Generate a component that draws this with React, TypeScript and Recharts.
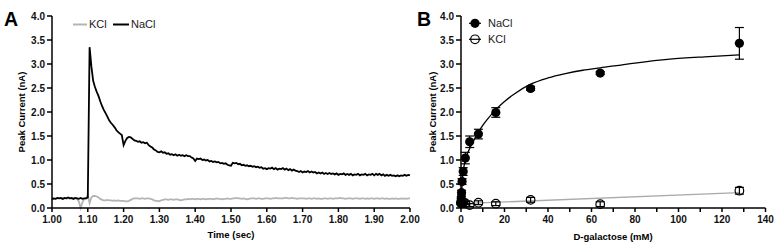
import React from 'react';
import {
  LineChart,
  ComposedChart,
  Line,
  Scatter,
  ErrorBar,
  XAxis,
  YAxis,
} from 'recharts';

// ---- Panel A: current traces, sampled every 5 ms from 1.00 s to 2.00 s ----
const sampleStart = 1.0;
const sampleStep = 0.005;

const naclTrace = [
  0.18, 0.20, 0.19, 0.21, 0.20, 0.21, 0.19, 0.21, 0.20, 0.22, 0.20, 0.21, 0.19, 0.21, 0.20, 0.19, 0.21, 0.19, 0.20, 0.20,
  0.22, 3.35, 2.95, 2.65, 2.52, 2.42, 2.33, 2.22, 2.12, 2.04, 1.97, 1.90, 1.82, 1.77, 1.73, 1.68, 1.62, 1.58, 1.55, 1.52,
  1.31, 1.40, 1.46, 1.48, 1.47, 1.44, 1.41, 1.40, 1.38, 1.39, 1.36, 1.37, 1.35, 1.36, 1.31, 1.28, 1.26, 1.22, 1.20, 1.17,
  1.16, 1.18, 1.15, 1.16, 1.13, 1.14, 1.11, 1.12, 1.10, 1.12, 1.09, 1.11, 1.09, 1.10, 1.08, 1.10, 1.08, 1.08, 1.05, 1.03,
  0.98, 1.03, 1.02, 1.03, 1.00, 1.01, 0.99, 1.00, 0.97, 0.98, 0.96, 0.97, 0.95, 0.96, 0.93, 0.94, 0.92, 0.93, 0.90, 0.89,
  0.88, 0.94, 0.93, 0.94, 0.91, 0.92, 0.89, 0.90, 0.88, 0.89, 0.87, 0.88, 0.86, 0.87, 0.85, 0.86, 0.84, 0.85, 0.82, 0.83,
  0.81, 0.83, 0.82, 0.84, 0.81, 0.83, 0.80, 0.82, 0.81, 0.83, 0.80, 0.82, 0.79, 0.81, 0.78, 0.80, 0.78, 0.77, 0.75, 0.77,
  0.74, 0.76, 0.75, 0.77, 0.74, 0.76, 0.74, 0.75, 0.72, 0.74, 0.72, 0.74, 0.71, 0.73, 0.71, 0.73, 0.71, 0.72, 0.70, 0.72,
  0.69, 0.71, 0.70, 0.72, 0.69, 0.71, 0.69, 0.71, 0.68, 0.70, 0.69, 0.71, 0.68, 0.70, 0.69, 0.71, 0.68, 0.70, 0.69, 0.71,
  0.68, 0.71, 0.69, 0.71, 0.68, 0.70, 0.67, 0.69, 0.67, 0.69, 0.67, 0.68, 0.66, 0.68, 0.66, 0.68, 0.67, 0.69, 0.67, 0.69,
  0.68,
];

const kclTrace = [
  0.20, 0.20, 0.19, 0.20, 0.20, 0.20, 0.19, 0.20, 0.20, 0.20, 0.20, 0.19, 0.20, 0.20, 0.19, 0.14, 0.00, 0.12, 0.19, 0.20,
  0.27, 0.10, 0.22, 0.25, 0.25, 0.24, 0.22, 0.19, 0.17, 0.16, 0.16, 0.17, 0.16, 0.16, 0.15, 0.16, 0.15, 0.16, 0.15, 0.15,
  0.15, 0.14, 0.14, 0.15, 0.17, 0.19, 0.20, 0.20, 0.20, 0.19, 0.20, 0.20, 0.19, 0.20, 0.20, 0.19, 0.18, 0.16, 0.15, 0.15,
  0.14, 0.16, 0.17, 0.18, 0.18, 0.17, 0.18, 0.18, 0.17, 0.18, 0.18, 0.17, 0.16, 0.17, 0.18, 0.18, 0.19, 0.18, 0.19, 0.19,
  0.18, 0.19, 0.19, 0.18, 0.19, 0.19, 0.18, 0.19, 0.19, 0.19, 0.18, 0.19, 0.20, 0.19, 0.19, 0.18, 0.19, 0.19, 0.20, 0.19,
  0.19, 0.20, 0.20, 0.21, 0.20, 0.20, 0.19, 0.20, 0.19, 0.18, 0.19, 0.20, 0.20, 0.20, 0.19, 0.20, 0.20, 0.19, 0.19, 0.20,
  0.20, 0.20, 0.19, 0.20, 0.20, 0.21, 0.20, 0.20, 0.20, 0.20, 0.21, 0.21, 0.20, 0.20, 0.21, 0.20, 0.20, 0.19, 0.20, 0.20,
  0.20, 0.20, 0.19, 0.20, 0.20, 0.19, 0.20, 0.20, 0.19, 0.20, 0.19, 0.19, 0.20, 0.20, 0.19, 0.20, 0.20, 0.19, 0.20, 0.20,
  0.20, 0.21, 0.20, 0.20, 0.19, 0.20, 0.20, 0.20, 0.19, 0.20, 0.20, 0.20, 0.19, 0.20, 0.20, 0.19, 0.20, 0.19, 0.20, 0.20,
  0.19, 0.20, 0.20, 0.19, 0.20, 0.20, 0.19, 0.20, 0.19, 0.19, 0.20, 0.19, 0.20, 0.19, 0.19, 0.20, 0.19, 0.20, 0.19, 0.20,
  0.20,
];

const timeTicks = [1.0, 1.1, 1.2, 1.3, 1.4, 1.5, 1.6, 1.7, 1.8, 1.9, 2.0];
const currentTicks = [0, 0.5, 1, 1.5, 2, 2.5, 3, 3.5, 4];

// ---- Panel B: dose response to D-galactose ----
const galactoseMM = [0.0625, 0.125, 0.25, 0.5, 1, 2, 4, 8, 16, 32, 64, 128];
const naclMean = [0.12, 0.2, 0.32, 0.55, 0.76, 1.04, 1.38, 1.54, 1.99, 2.49, 2.81, 3.43];
const naclSem = [0.03, 0.04, 0.05, 0.06, 0.08, 0.12, 0.12, 0.1, 0.1, 0.04, 0.03, 0.33];
const kclMean = [0.1, 0.1, 0.11, 0.1, 0.12, 0.1, 0.06, 0.11, 0.09, 0.17, 0.08, 0.36];
const kclSem = [0.02, 0.02, 0.02, 0.02, 0.03, 0.03, 0.03, 0.04, 0.04, 0.05, 0.05, 0.07];

// fitted curves
const naclFitX = [0, 0.5, 1, 2, 4, 6, 8, 10, 12, 16, 20, 24, 32, 40, 48, 56, 64, 80, 96, 112, 128];
const naclFitY = [0.1, 0.5, 0.75, 1.0, 1.24, 1.42, 1.58, 1.72, 1.84, 2.05, 2.22, 2.36, 2.58, 2.71, 2.8, 2.87, 2.92, 3.02, 3.1, 3.15, 3.19];
const kclFitX = [0, 128];
const kclFitY = [0.09, 0.32];

const galTicks = [0, 10, 20, 30, 40, 50, 60, 70, 80, 90, 100, 110, 120, 130, 140];

const traceRows = naclTrace.map((v, i) => ({
  t: sampleStart + i * sampleStep,
  nacl: v,
  kcl: kclTrace[i],
}));
const naclPoints = galactoseMM.map((x, i) => ({ x, y: naclMean[i], sem: naclSem[i] }));
const kclPoints = galactoseMM.map((x, i) => ({ x, y: kclMean[i], sem: kclSem[i] }));
const naclFit = naclFitX.map((x, i) => ({ x, y: naclFitY[i] }));
const kclFit = kclFitX.map((x, i) => ({ x, y: kclFitY[i] }));

const FONT = '"Liberation Sans", Arial, sans-serif';
const tickStyle = { fontSize: 10, fontWeight: 700, fill: '#111', fontFamily: FONT };
const axisStroke = { stroke: '#000', strokeWidth: 1.5 };

const GalTick = ({ x, y, payload }: any) =>
  payload.value % 20 === 0 ? (
    <text x={x} y={y} dy="0.71em" textAnchor="middle" {...tickStyle}>
      {payload.value}
    </text>
  ) : (
    <g />
  );

const FilledDot = ({ cx, cy }: any) => <circle cx={cx} cy={cy} r={4.6} fill="#000" />;
const OpenDot = ({ cx, cy }: any) => (
  <circle cx={cx} cy={cy} r={4.3} fill="none" stroke="#000" strokeWidth={1.2} />
);

export default function App() {
  return (
    <div
      style={{
        position: 'fixed',
        left: 0,
        top: 0,
        width: 777,
        height: 248,
        background: '#fff',
        fontFamily: FONT,
      }}
    >
      {/* A */}
      <div style={{ position: 'absolute', left: 0, top: 0 }}>
        <LineChart width={420} height={248} data={traceRows} margin={{ top: 16, right: 10, bottom: 0, left: 0 }}>
          <XAxis
            dataKey="t"
            type="number"
            domain={[1, 2]}
            ticks={timeTicks}
            interval={0}
            tickFormatter={(v: number) => v.toFixed(2)}
            tick={tickStyle}
            tickSize={4}
            tickMargin={4}
            axisLine={axisStroke}
            tickLine={axisStroke}
            height={40}
          />
          <YAxis
            type="number"
            domain={[0, 4]}
            ticks={currentTicks}
            interval={0}
            tickFormatter={(v: number) => v.toFixed(1)}
            tick={tickStyle}
            tickSize={5}
            tickMargin={2}
            axisLine={axisStroke}
            tickLine={axisStroke}
            width={52}
          />
          <Line dataKey="kcl" stroke="#b4b4b4" strokeWidth={1.8} dot={false} activeDot={false} isAnimationActive={false} />
          <Line dataKey="nacl" stroke="#000" strokeWidth={1.8} dot={false} activeDot={false} isAnimationActive={false} />
        </LineChart>
      </div>

      {/* B */}
      <div style={{ position: 'absolute', left: 410, top: 0 }}>
        <ComposedChart width={367} height={248} margin={{ top: 16, right: 11.5, bottom: 0, left: 0 }}>
          <XAxis
            dataKey="x"
            type="number"
            domain={[0, 140]}
            ticks={galTicks}
            interval={0}
            tick={<GalTick />}
            tickSize={4}
            tickMargin={4}
            axisLine={axisStroke}
            tickLine={axisStroke}
            height={40}
          />
          <YAxis
            type="number"
            domain={[0, 4]}
            ticks={currentTicks}
            interval={0}
            tickFormatter={(v: number) => v.toFixed(1)}
            tick={tickStyle}
            tickSize={5}
            tickMargin={2}
            axisLine={axisStroke}
            tickLine={axisStroke}
            width={51}
          />
          <Line data={kclFit} dataKey="y" type="linear" stroke="#aaa" strokeWidth={1.3} dot={false} activeDot={false} isAnimationActive={false} />
          <Line data={naclFit} dataKey="y" type="monotone" stroke="#000" strokeWidth={1.3} dot={false} activeDot={false} isAnimationActive={false} />
          <Scatter data={kclPoints} dataKey="y" shape={<OpenDot />} isAnimationActive={false}>
            <ErrorBar dataKey="sem" direction="y" width={4.5} stroke="#000" strokeWidth={1.2} />
          </Scatter>
          <Scatter data={naclPoints} dataKey="y" shape={<FilledDot />} isAnimationActive={false}>
            <ErrorBar dataKey="sem" direction="y" width={4.5} stroke="#000" strokeWidth={1.2} />
          </Scatter>
        </ComposedChart>
      </div>

      {/* panel letters, legends and axis titles */}
      <svg width={777} height={248} style={{ position: 'absolute', left: 0, top: 0, pointerEvents: 'none' }}>
        <g fontFamily={FONT}>
          <text x={4} y={25.5} fontSize={19.5} fontWeight={700}>A</text>
          <text x={417} y={25.5} fontSize={19.5} fontWeight={700}>B</text>

          <line x1={73} y1={24.5} x2={87} y2={24.5} stroke="#b4b4b4" strokeWidth={2} />
          <text x={89} y={28.4} fontSize={11} fill="#222">KCl</text>
          <line x1={113} y1={24.5} x2={129} y2={24.5} stroke="#000" strokeWidth={2} />
          <text x={131} y={28.4} fontSize={11} fill="#222">NaCl</text>

          <line x1={469} y1={23.3} x2={481} y2={23.3} stroke="#000" strokeWidth={1.2} />
          <circle cx={475} cy={23.3} r={4.6} fill="#000" />
          <text x={488} y={27.2} fontSize={11} fill="#222">NaCl</text>
          <line x1={469} y1={39.3} x2={481} y2={39.3} stroke="#000" strokeWidth={1.2} />
          <circle cx={475} cy={39.3} r={4.3} fill="none" stroke="#000" strokeWidth={1.2} />
          <text x={488} y={43.2} fontSize={11} fill="#222">KCl</text>

          <text x={231} y={237.5} fontSize={9.5} fontWeight={700} textAnchor="middle">Time (sec)</text>
          <text x={613} y={239.5} fontSize={9.5} fontWeight={700} textAnchor="middle">D-galactose (mM)</text>
          <text transform="translate(25.3,112) rotate(-90)" fontSize={9.5} fontWeight={700} textAnchor="middle">
            Peak Current (nA)
          </text>
          <text transform="translate(436.2,112) rotate(-90)" fontSize={9.5} fontWeight={700} textAnchor="middle">
            Peak Current (nA)
          </text>
        </g>
      </svg>
    </div>
  );
}
